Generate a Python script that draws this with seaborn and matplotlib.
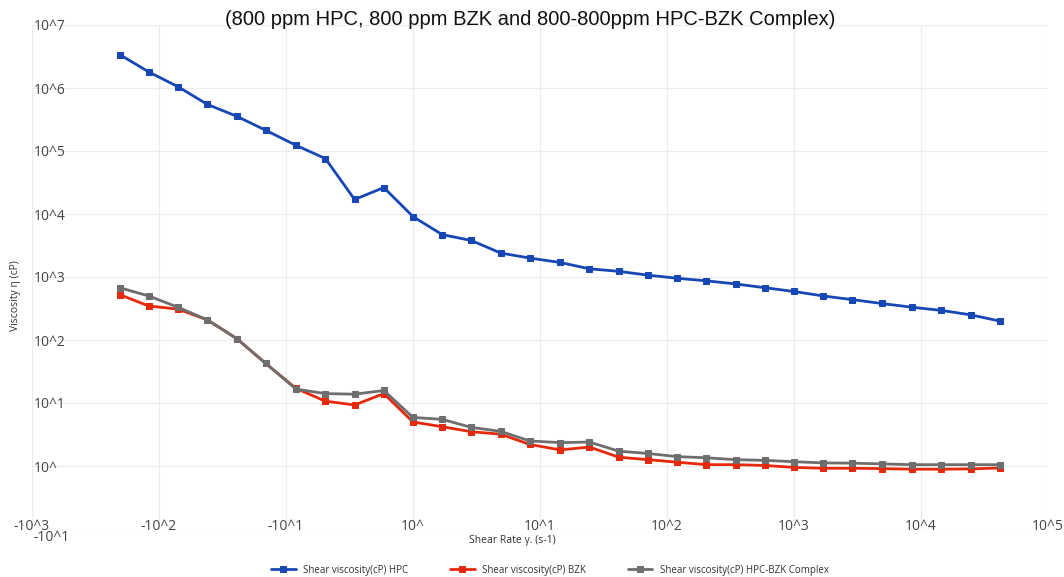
import numpy as np
import pandas as pd
import matplotlib
matplotlib.use('Agg')
import matplotlib.pyplot as plt
import matplotlib.transforms as mtransforms
import seaborn as sns

# shear rate (s-1)
shear_rate = [0.0049, 0.0083, 0.0141, 0.024, 0.041, 0.069, 0.12, 0.204, 0.347, 0.589,
              1.0, 1.70, 2.88, 4.9, 8.3, 14.4, 24.5, 41.7, 70.8, 120,
              204, 347, 589, 1000, 1700, 2884, 4898, 8511, 14454, 24547, 41687]

# viscosity (cP)
visc_hpc = [3.4e6, 1.8e6, 1.05e6, 5.5e5, 3.55e5, 2.14e5, 1.23e5, 7.6e4, 1.7e4, 2.63e4,
            9.1e3, 4.7e3, 3.8e3, 2.4e3, 2.0e3, 1.7e3, 1.35e3, 1.23e3, 1.07e3, 955,
            870, 776, 676, 589, 500, 437, 380, 331, 295, 251, 200]
visc_bzk = [525, 347, 309, 209, 105, 42.7, 17.0, 10.7, 9.3, 14.1,
            5.0, 4.2, 3.5, 3.2, 2.2, 1.8, 2.0, 1.38, 1.26, 1.15,
            1.05, 1.05, 1.02, 0.95, 0.92, 0.92, 0.91, 0.89, 0.89, 0.90, 0.93]
visc_complex = [676, 500, 331, 209, 105, 42.7, 16.6, 14.1, 13.8, 15.8,
                5.9, 5.5, 4.1, 3.55, 2.5, 2.35, 2.4, 1.72, 1.58, 1.41,
                1.35, 1.26, 1.23, 1.17, 1.12, 1.11, 1.08, 1.05, 1.05, 1.05, 1.05]

series_names = ['Shear viscosity(cP) HPC', 'Shear viscosity(cP) BZK',
                'Shear viscosity(cP) HPC-BZK Complex']
series_colors = ['#1747b5', '#e6280c', '#6e6e6e']

x_tick_vals = [1e-3, 1e-2, 1e-1, 1e0, 1e1, 1e2, 1e3, 1e4, 1e5]
x_tick_labels = ['-10^3', '-10^2', '-10^1', '10^', '10^1', '10^2', '10^3', '10^4', '10^5']
y_tick_vals = [1e-1, 1e0, 1e1, 1e2, 1e3, 1e4, 1e5, 1e6, 1e7]
y_tick_labels = ['-10^1', '10^', '10^1', '10^2', '10^3', '10^4', '10^5', '10^6', '10^7']

sns.set_style('whitegrid')
plt.rcParams['font.family'] = ['Open Sans', 'DejaVu Sans']

fig = plt.figure(figsize=(10.64, 5.77), dpi=100)
ax = fig.add_axes([32 / 1064, 1 - 529 / 577, 1016 / 1064, 504 / 577])
ax.set_xscale('log')
ax.set_yscale('log')

for name, vals, col in zip(series_names, [visc_hpc, visc_bzk, visc_complex], series_colors):
    df = pd.DataFrame({'rate': shear_rate, 'visc': vals})
    sns.lineplot(data=df, x='rate', y='visc', ax=ax, color=col, marker='s',
                 markersize=5, markeredgecolor=col, linewidth=2.0, label=name)

ax.set_xlim(1e-3, 1e5)
ax.set_ylim(1e-1, 1e7)
ax.minorticks_off()
ax.set_xticks(x_tick_vals)
ax.set_xticklabels(x_tick_labels)
ax.set_yticks(y_tick_vals)
ax.set_yticklabels(y_tick_labels)
ax.tick_params(axis='x', length=0, pad=-7, labelsize=10, labelcolor='#444444')
ax.tick_params(axis='y', length=0, pad=-1, labelsize=10, labelcolor='#444444')
for lbl in ax.get_yticklabels():
    lbl.set_horizontalalignment('left')
# bottom y label sits a little lower, under the first x label
ax.get_yticklabels()[0].set_transform(
    ax.get_yticklabels()[0].get_transform()
    + mtransforms.ScaledTranslation(0, -5 / 72, fig.dpi_scale_trans))

ax.grid(True, color='#ececec', linewidth=0.8)
for s in ax.spines.values():
    s.set_visible(False)

ax.set_xlabel('Shear Rate γ. (s-1)', fontsize=7.5, color='#333333')
ax.xaxis.set_label_coords(0.473, -0.012)
ax.set_ylabel('Viscosity η (cP)', fontsize=7.5, color='#333333')
ax.yaxis.set_label_coords(-0.011, 0.464)

fig.text(0.498, 0.966, '(800 ppm HPC, 800 ppm BZK and 800-800ppm HPC-BZK Complex)',
         ha='center', va='center', fontsize=14.5, family='Liberation Sans', color='#111111')

leg = ax.legend(loc='center', bbox_to_anchor=(0.51, -0.082), ncol=3, frameon=False,
                fontsize=7, handlelength=2.5, columnspacing=4.3)
for t in leg.get_texts():
    t.set_color('#333333')

fig.savefig('out.png', dpi=100)
